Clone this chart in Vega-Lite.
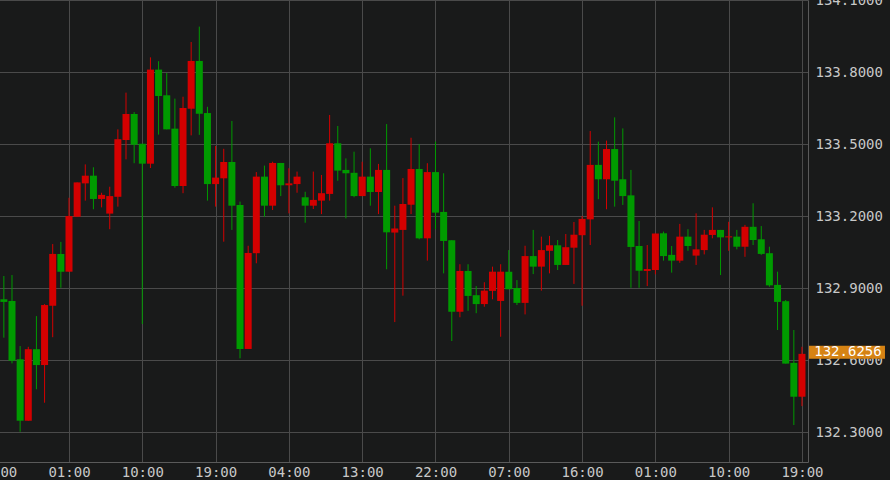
{
  "$schema": "https://vega.github.io/schema/vega-lite/v6.json",
  "width": 813,
  "height": 462,
  "autosize": {"type": "none"},
  "padding": {"left": -5, "top": 0, "right": 82, "bottom": 18},
  "background": "#191a1a",
  "config": {
    "view": {"stroke": null},
    "font": "DejaVu Sans Mono",
    "axisY": {
      "orient": "right",
      "title": null,
      "grid": true,
      "gridColor": "#4a4a4a",
      "gridWidth": 1,
      "ticks": false,
      "domainColor": "#5a5a5a",
      "labelColor": "#c8c8c8",
      "labelFont": "DejaVu Sans Mono",
      "labelFontSize": 14,
      "labelPadding": 7,
      "labelAlign": "left",
      "labelFlush": false,
      "labelOverlap": false,
      "format": ".4f"
    }
  },
  "datasets": {
    "candles": [
      {"t": "2023-05-15T17:00", "open": 132.853, "high": 132.950, "low": 132.693, "close": 132.842},
      {"t": "2023-05-15T18:00", "open": 132.846, "high": 132.954, "low": 132.586, "close": 132.597},
      {"t": "2023-05-15T19:00", "open": 132.603, "high": 132.658, "low": 132.301, "close": 132.347},
      {"t": "2023-05-15T20:00", "open": 132.347, "high": 132.655, "low": 132.347, "close": 132.645},
      {"t": "2023-05-15T21:00", "open": 132.645, "high": 132.783, "low": 132.478, "close": 132.579},
      {"t": "2023-05-15T22:00", "open": 132.579, "high": 132.833, "low": 132.422, "close": 132.829},
      {"t": "2023-05-15T23:00", "open": 132.826, "high": 133.083, "low": 132.695, "close": 133.042},
      {"t": "2023-05-16T00:00", "open": 133.042, "high": 133.092, "low": 132.901, "close": 132.968},
      {"t": "2023-05-16T01:00", "open": 132.968, "high": 133.276, "low": 132.968, "close": 133.200},
      {"t": "2023-05-16T02:00", "open": 133.197, "high": 133.340, "low": 133.197, "close": 133.340},
      {"t": "2023-05-16T03:00", "open": 133.336, "high": 133.415, "low": 133.264, "close": 133.368},
      {"t": "2023-05-16T04:00", "open": 133.368, "high": 133.403, "low": 133.228, "close": 133.271},
      {"t": "2023-05-16T05:00", "open": 133.271, "high": 133.297, "low": 133.236, "close": 133.288},
      {"t": "2023-05-16T06:00", "open": 133.210, "high": 133.322, "low": 133.145, "close": 133.283},
      {"t": "2023-05-16T07:00", "open": 133.280, "high": 133.561, "low": 133.239, "close": 133.520},
      {"t": "2023-05-16T08:00", "open": 133.517, "high": 133.714, "low": 133.436, "close": 133.625},
      {"t": "2023-05-16T09:00", "open": 133.625, "high": 133.633, "low": 133.420, "close": 133.497},
      {"t": "2023-05-16T10:00", "open": 133.501, "high": 133.501, "low": 132.750, "close": 133.418},
      {"t": "2023-05-16T11:00", "open": 133.418, "high": 133.861, "low": 133.400, "close": 133.810},
      {"t": "2023-05-16T12:00", "open": 133.810, "high": 133.845, "low": 133.539, "close": 133.700},
      {"t": "2023-05-16T13:00", "open": 133.703, "high": 133.796, "low": 133.561, "close": 133.561},
      {"t": "2023-05-16T14:00", "open": 133.564, "high": 133.689, "low": 133.318, "close": 133.325},
      {"t": "2023-05-16T15:00", "open": 133.325, "high": 133.697, "low": 133.295, "close": 133.650},
      {"t": "2023-05-16T16:00", "open": 133.647, "high": 133.925, "low": 133.536, "close": 133.846},
      {"t": "2023-05-16T17:00", "open": 133.846, "high": 133.989, "low": 133.538, "close": 133.626},
      {"t": "2023-05-16T18:00", "open": 133.629, "high": 133.655, "low": 133.264, "close": 133.333},
      {"t": "2023-05-16T19:00", "open": 133.333, "high": 133.492, "low": 133.239, "close": 133.360},
      {"t": "2023-05-16T20:00", "open": 133.357, "high": 133.480, "low": 133.093, "close": 133.425},
      {"t": "2023-05-16T21:00", "open": 133.425, "high": 133.596, "low": 133.142, "close": 133.243},
      {"t": "2023-05-16T22:00", "open": 133.246, "high": 133.260, "low": 132.607, "close": 132.646},
      {"t": "2023-05-16T23:00", "open": 132.646, "high": 133.076, "low": 132.646, "close": 133.046},
      {"t": "2023-05-17T00:00", "open": 133.045, "high": 133.383, "low": 133.003, "close": 133.364},
      {"t": "2023-05-17T01:00", "open": 133.364, "high": 133.410, "low": 133.197, "close": 133.243},
      {"t": "2023-05-17T02:00", "open": 133.243, "high": 133.426, "low": 133.225, "close": 133.421},
      {"t": "2023-05-17T03:00", "open": 133.421, "high": 133.421, "low": 133.283, "close": 133.328},
      {"t": "2023-05-17T04:00", "open": 133.328, "high": 133.399, "low": 133.211, "close": 133.336},
      {"t": "2023-05-17T05:00", "open": 133.333, "high": 133.385, "low": 133.297, "close": 133.364},
      {"t": "2023-05-17T06:00", "open": 133.278, "high": 133.301, "low": 133.172, "close": 133.243},
      {"t": "2023-05-17T07:00", "open": 133.243, "high": 133.385, "low": 133.229, "close": 133.267},
      {"t": "2023-05-17T08:00", "open": 133.264, "high": 133.371, "low": 133.208, "close": 133.295},
      {"t": "2023-05-17T09:00", "open": 133.292, "high": 133.621, "low": 133.264, "close": 133.503},
      {"t": "2023-05-17T10:00", "open": 133.503, "high": 133.575, "low": 133.347, "close": 133.389},
      {"t": "2023-05-17T11:00", "open": 133.392, "high": 133.440, "low": 133.190, "close": 133.378},
      {"t": "2023-05-17T12:00", "open": 133.380, "high": 133.468, "low": 133.278, "close": 133.283},
      {"t": "2023-05-17T13:00", "open": 133.283, "high": 133.426, "low": 133.283, "close": 133.364},
      {"t": "2023-05-17T14:00", "open": 133.364, "high": 133.482, "low": 133.243, "close": 133.300},
      {"t": "2023-05-17T15:00", "open": 133.300, "high": 133.417, "low": 133.208, "close": 133.392},
      {"t": "2023-05-17T16:00", "open": 133.392, "high": 133.583, "low": 132.978, "close": 133.132},
      {"t": "2023-05-17T17:00", "open": 133.131, "high": 133.243, "low": 132.758, "close": 133.148},
      {"t": "2023-05-17T18:00", "open": 133.142, "high": 133.358, "low": 132.868, "close": 133.250},
      {"t": "2023-05-17T19:00", "open": 133.247, "high": 133.526, "low": 133.208, "close": 133.396},
      {"t": "2023-05-17T20:00", "open": 133.396, "high": 133.499, "low": 133.103, "close": 133.107},
      {"t": "2023-05-17T21:00", "open": 133.107, "high": 133.420, "low": 133.014, "close": 133.383},
      {"t": "2023-05-17T22:00", "open": 133.383, "high": 133.510, "low": 133.145, "close": 133.214},
      {"t": "2023-05-17T23:00", "open": 133.217, "high": 133.378, "low": 132.961, "close": 133.096},
      {"t": "2023-05-18T00:00", "open": 133.099, "high": 133.099, "low": 132.679, "close": 132.801},
      {"t": "2023-05-18T01:00", "open": 132.801, "high": 132.999, "low": 132.778, "close": 132.971},
      {"t": "2023-05-18T02:00", "open": 132.971, "high": 132.999, "low": 132.805, "close": 132.867},
      {"t": "2023-05-18T03:00", "open": 132.870, "high": 132.908, "low": 132.795, "close": 132.833},
      {"t": "2023-05-18T04:00", "open": 132.833, "high": 132.924, "low": 132.822, "close": 132.889},
      {"t": "2023-05-18T05:00", "open": 132.888, "high": 132.989, "low": 132.853, "close": 132.968},
      {"t": "2023-05-18T06:00", "open": 132.846, "high": 132.999, "low": 132.697, "close": 132.968},
      {"t": "2023-05-18T07:00", "open": 132.968, "high": 133.058, "low": 132.895, "close": 132.895},
      {"t": "2023-05-18T08:00", "open": 132.900, "high": 132.933, "low": 132.829, "close": 132.838},
      {"t": "2023-05-18T09:00", "open": 132.838, "high": 133.076, "low": 132.790, "close": 133.033},
      {"t": "2023-05-18T10:00", "open": 133.033, "high": 133.142, "low": 132.958, "close": 132.989},
      {"t": "2023-05-18T11:00", "open": 132.989, "high": 133.114, "low": 132.889, "close": 133.058},
      {"t": "2023-05-18T12:00", "open": 133.055, "high": 133.117, "low": 132.961, "close": 133.078},
      {"t": "2023-05-18T13:00", "open": 133.078, "high": 133.100, "low": 132.975, "close": 132.996},
      {"t": "2023-05-18T14:00", "open": 132.996, "high": 133.125, "low": 132.996, "close": 133.070},
      {"t": "2023-05-18T15:00", "open": 133.068, "high": 133.175, "low": 132.917, "close": 133.122},
      {"t": "2023-05-18T16:00", "open": 133.120, "high": 133.200, "low": 132.826, "close": 133.188},
      {"t": "2023-05-18T17:00", "open": 133.186, "high": 133.554, "low": 133.079, "close": 133.413},
      {"t": "2023-05-18T18:00", "open": 133.413, "high": 133.510, "low": 133.270, "close": 133.353},
      {"t": "2023-05-18T19:00", "open": 133.353, "high": 133.514, "low": 133.228, "close": 133.479},
      {"t": "2023-05-18T20:00", "open": 133.479, "high": 133.611, "low": 133.239, "close": 133.347},
      {"t": "2023-05-18T21:00", "open": 133.353, "high": 133.565, "low": 133.246, "close": 133.283},
      {"t": "2023-05-18T22:00", "open": 133.286, "high": 133.392, "low": 132.901, "close": 133.071},
      {"t": "2023-05-18T23:00", "open": 133.075, "high": 133.179, "low": 132.901, "close": 132.972},
      {"t": "2023-05-19T00:00", "open": 132.971, "high": 133.079, "low": 132.908, "close": 132.979},
      {"t": "2023-05-19T01:00", "open": 132.975, "high": 133.127, "low": 132.957, "close": 133.127},
      {"t": "2023-05-19T02:00", "open": 133.128, "high": 133.135, "low": 133.014, "close": 133.033},
      {"t": "2023-05-19T03:00", "open": 133.038, "high": 133.075, "low": 132.964, "close": 133.014},
      {"t": "2023-05-19T04:00", "open": 133.014, "high": 133.167, "low": 133.005, "close": 133.114},
      {"t": "2023-05-19T05:00", "open": 133.114, "high": 133.145, "low": 133.055, "close": 133.075},
      {"t": "2023-05-19T06:00", "open": 133.035, "high": 133.211, "low": 132.996, "close": 133.061},
      {"t": "2023-05-19T07:00", "open": 133.058, "high": 133.142, "low": 133.040, "close": 133.122},
      {"t": "2023-05-19T08:00", "open": 133.121, "high": 133.236, "low": 133.107, "close": 133.142},
      {"t": "2023-05-19T09:00", "open": 133.142, "high": 133.142, "low": 132.954, "close": 133.111},
      {"t": "2023-05-19T10:00", "open": 133.111, "high": 133.176, "low": 133.055, "close": 133.115},
      {"t": "2023-05-19T11:00", "open": 133.114, "high": 133.142, "low": 133.061, "close": 133.072},
      {"t": "2023-05-19T12:00", "open": 133.072, "high": 133.163, "low": 133.030, "close": 133.155},
      {"t": "2023-05-19T13:00", "open": 133.155, "high": 133.253, "low": 133.079, "close": 133.100},
      {"t": "2023-05-19T14:00", "open": 133.103, "high": 133.158, "low": 133.038, "close": 133.042},
      {"t": "2023-05-19T15:00", "open": 133.045, "high": 133.072, "low": 132.905, "close": 132.911},
      {"t": "2023-05-19T16:00", "open": 132.913, "high": 132.968, "low": 132.725, "close": 132.842},
      {"t": "2023-05-19T17:00", "open": 132.845, "high": 132.850, "low": 132.585, "close": 132.585},
      {"t": "2023-05-19T18:00", "open": 132.588, "high": 132.725, "low": 132.329, "close": 132.447},
      {"t": "2023-05-19T19:00", "open": 132.447, "high": 132.655, "low": 132.408, "close": 132.6256}
    ],
    "last": [
      {"t": "2023-05-19T19:00", "close": 132.6256}
    ]
  },
  "encoding": {
    "x": {
      "field": "t",
      "type": "temporal",
      "scale": {
        "padding": 0,
        "domain": [
          {"year": 2023, "month": 5, "date": 15, "hours": 15, "minutes": 54, "seconds": 47},
          {"year": 2023, "month": 5, "date": 19, "hours": 19, "minutes": 44, "seconds": 24}
        ]
      },
      "axis": {
        "values": [
          {"year": 2023, "month": 5, "date": 15, "hours": 16},
          {"year": 2023, "month": 5, "date": 16, "hours": 1},
          {"year": 2023, "month": 5, "date": 16, "hours": 10},
          {"year": 2023, "month": 5, "date": 16, "hours": 19},
          {"year": 2023, "month": 5, "date": 17, "hours": 4},
          {"year": 2023, "month": 5, "date": 17, "hours": 13},
          {"year": 2023, "month": 5, "date": 17, "hours": 22},
          {"year": 2023, "month": 5, "date": 18, "hours": 7},
          {"year": 2023, "month": 5, "date": 18, "hours": 16},
          {"year": 2023, "month": 5, "date": 19, "hours": 1},
          {"year": 2023, "month": 5, "date": 19, "hours": 10},
          {"year": 2023, "month": 5, "date": 19, "hours": 19}
        ],
        "format": "%H:%M",
        "title": null,
        "grid": true,
        "gridColor": "#4a4a4a",
        "gridWidth": 1,
        "ticks": false,
        "domainColor": "#5a5a5a",
        "labelColor": "#c8c8c8",
        "labelFont": "DejaVu Sans Mono",
        "labelFontSize": 14,
        "labelPadding": 3,
        "labelFlush": false,
        "labelOverlap": false,
        "labelAngle": 0
      }
    }
  },
  "layer": [
    {
      "data": {"name": "candles"},
      "mark": {"type": "rule", "strokeWidth": 1},
      "encoding": {
        "y": {
          "field": "low",
          "type": "quantitative",
          "scale": {"domain": [132.175, 134.1], "zero": false, "nice": false},
          "axis": {"orient": "right", "title": null, "values": [132.3, 132.6, 132.9, 133.2, 133.5, 133.8, 134.1]}
        },
        "y2": {"field": "high"},
        "color": {
          "condition": {"test": "datum.close > datum.open", "value": "#d40000"},
          "value": "#009a00"
        }
      }
    },
    {
      "data": {"name": "candles"},
      "mark": {"type": "bar", "width": 7},
      "encoding": {
        "y": {
          "field": "open",
          "type": "quantitative",
          "axis": {"orient": "right", "title": null, "values": [132.3, 132.6, 132.9, 133.2, 133.5, 133.8, 134.1]}
        },
        "y2": {"field": "close"},
        "color": {
          "condition": {"test": "datum.close > datum.open", "value": "#d40000"},
          "value": "#009a00"
        }
      }
    },
    {
      "data": {"name": "last"},
      "mark": {"type": "rect", "width": 76, "height": 13, "xOffset": 45, "yOffset": -1.5, "color": "#d68314"},
      "encoding": {
        "y": {
          "field": "close",
          "type": "quantitative",
          "axis": {"orient": "right", "title": null, "values": [132.3, 132.6, 132.9, 133.2, 133.5, 133.8, 134.1]}
        }
      }
    },
    {
      "data": {"name": "last"},
      "mark": {"type": "text", "dx": 46, "dy": -1.5, "align": "center", "baseline": "middle", "fontSize": 14, "font": "DejaVu Sans Mono", "color": "#ffffff"},
      "encoding": {
        "y": {
          "field": "close",
          "type": "quantitative",
          "axis": {"orient": "right", "title": null, "values": [132.3, 132.6, 132.9, 133.2, 133.5, 133.8, 134.1]}
        },
        "text": {"field": "close", "type": "quantitative", "format": ".4f"}
      }
    }
  ]
}
